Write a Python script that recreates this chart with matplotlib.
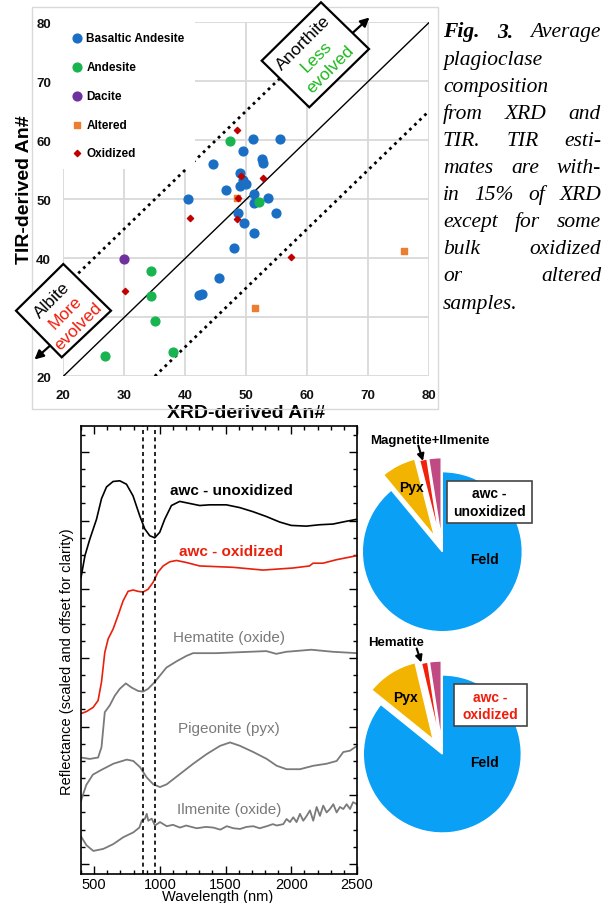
import numpy as np
import matplotlib
matplotlib.use('Agg')
import matplotlib.pyplot as plt
from matplotlib.patches import Polygon, Rectangle, FancyArrowPatch

plt.rcParams['font.family'] = ['Liberation Sans', 'DejaVu Sans']

W, H = 605, 904

# ---------------- scatter: XRD vs TIR An#
bas_x = [51.1, 55.5, 49.5, 52.5, 52.7, 44.6, 49.0, 49.5, 49.0, 49.9, 46.7, 51.3,
         40.5, 53.6, 51.3, 48.7, 54.8, 49.7, 51.3, 48.0, 45.5, 42.8, 42.2]
bas_y = [60.2, 60.2, 58.2, 56.9, 56.2, 55.9, 54.5, 53.2, 52.3, 52.6, 51.6, 50.9,
         50.0, 50.2, 49.4, 47.6, 47.6, 45.9, 44.3, 41.7, 36.7, 34.0, 33.8]
and_x = [47.3, 52.0, 34.4, 34.4, 35.1, 26.8, 38.0]
and_y = [59.9, 49.5, 37.9, 33.6, 29.3, 23.4, 24.1]
dac_x = [30.0]
dac_y = [39.8]
alt_x = [48.4, 51.4, 75.9]
alt_y = [50.3, 31.5, 41.3]
oxi_x = [48.4, 49.1, 52.8, 48.6, 40.8, 48.4, 57.4, 30.1]
oxi_y = [61.8, 54.0, 53.6, 50.2, 46.8, 46.6, 40.3, 34.4]
ticks_an = [20, 30, 40, 50, 60, 70, 80]

# ---------------- spectra (reflectance, scaled and offset)
unox_nm = [400, 430, 467, 518, 556, 594, 644, 695, 746, 796, 847, 885, 923, 961, 999, 1037,
           1088, 1151, 1227, 1303, 1379, 1506, 1607, 1709, 1810, 1911, 2000, 2114, 2216,
           2317, 2418, 2500]
unox_r = [4.17, 4.49, 4.73, 5.02, 5.32, 5.49, 5.57, 5.58, 5.53, 5.36, 5.07, 4.88, 4.78, 4.75,
          4.83, 5.02, 5.22, 5.28, 5.25, 5.22, 5.23, 5.23, 5.19, 5.13, 5.06, 4.98, 4.93, 4.92,
          4.94, 4.95, 4.99, 5.02]
ox_nm = [400, 442, 492, 530, 556, 581, 607, 644, 682, 720, 758, 796, 834, 872, 910, 948, 986,
         1025, 1075, 1126, 1202, 1303, 1557, 1785, 2013, 2139, 2165, 2241, 2342, 2500]
ox_r = [2.19, 2.22, 2.28, 2.38, 2.65, 3.08, 3.28, 3.42, 3.62, 3.83, 3.97, 3.99, 3.97, 3.96,
        4.00, 4.10, 4.25, 4.34, 4.40, 4.42, 4.39, 4.34, 4.32, 4.28, 4.31, 4.34, 4.38, 4.38,
        4.43, 4.49]
hem_nm = [400, 467, 530, 556, 581, 619, 657, 695, 741, 784, 834, 872, 910, 961, 999, 1050,
          1126, 1202, 1252, 1430, 1810, 1886, 1962, 2152, 2317, 2500]
hem_r = [1.55, 1.53, 1.55, 1.70, 2.21, 2.31, 2.45, 2.55, 2.63, 2.57, 2.52, 2.51, 2.55, 2.65,
         2.74, 2.86, 2.95, 3.03, 3.07, 3.07, 3.10, 3.06, 3.09, 3.12, 3.09, 3.07]
pig_nm = [400, 440, 490, 545, 646, 748, 798, 849, 900, 950, 1001, 1052, 1153, 1254, 1356,
          1458, 1534, 1610, 1711, 1813, 1889, 1965, 2066, 2167, 2269, 2345, 2396, 2447, 2500]
pig_r = [0.92, 1.15, 1.30, 1.36, 1.46, 1.52, 1.50, 1.41, 1.26, 1.16, 1.12, 1.16, 1.31, 1.46,
         1.60, 1.72, 1.77, 1.72, 1.63, 1.53, 1.43, 1.38, 1.38, 1.43, 1.46, 1.50, 1.63, 1.65,
         1.72]
ilm_nm = [400, 443, 494, 570, 646, 722, 798, 844, 862, 887, 900, 912, 938, 963, 1001, 1052,
          1100, 1153, 1200, 1280, 1350, 1407, 1460, 1509, 1560, 1610, 1660, 1711, 1760, 1813,
          1860, 1889, 1939, 1964, 1990, 2015, 2040, 2066, 2091, 2117, 2142, 2167, 2193, 2218,
          2243, 2269, 2294, 2320, 2345, 2370, 2396, 2421, 2447, 2470, 2500]
ilm_r = [0.40, 0.27, 0.19, 0.22, 0.29, 0.39, 0.46, 0.53, 0.63, 0.66, 0.73, 0.63, 0.66, 0.56,
         0.61, 0.55, 0.57, 0.53, 0.56, 0.52, 0.54, 0.53, 0.50, 0.55, 0.52, 0.51, 0.54, 0.55,
         0.52, 0.55, 0.58, 0.56, 0.58, 0.655, 0.61, 0.68, 0.61, 0.73, 0.63, 0.70, 0.78, 0.63,
         0.83, 0.70, 0.85, 0.75, 0.80, 0.87, 0.75, 0.83, 0.80, 0.87, 0.80, 0.90, 0.87]
band_nm = [870, 965]
wl_ticks = [500, 1000, 1500, 2000, 2500]

# ---------------- modal mineralogy pies
pie_names = ['Feld', 'Pyx', 'Fe-Ti oxide', 'Other']
pie_unox = [89.0, 7.0, 1.5, 2.5]
pie_ox = [85.8, 10.5, 1.3, 2.4]
pie_cols = ['#0aa0f6', '#f2b400', '#f2210c', '#c04a82']

fig = plt.figure(figsize=(6.05, 9.04), dpi=100)


def fx(x):
    return x / W


def fy(y):
    return 1 - y / H


def px_axes(x0, y0, x1, y1):
    return fig.add_axes([fx(x0), fy(y1), (x1 - x0) / W, (y1 - y0) / H])


# Excel chart frame
fig.add_artist(Rectangle((fx(32), fy(410)), (438 - 32) / W, (410 - 8) / H,
                         transform=fig.transFigure, fill=False, ec='#d9d9d9', lw=1))

ax1 = px_axes(63.3, 23.3, 429.3, 377.3)
ax1.set_xlim(20, 80)
ax1.set_ylim(20, 80)
ax1.set_xticks(ticks_an)
ax1.set_yticks(ticks_an)
for s in ax1.spines.values():
    s.set_visible(False)
ax1.grid(True, color='#d9d9d9', lw=1.3, zorder=0)
ax1.set_axisbelow(True)
ax1.tick_params(length=0, labelsize=9.5, colors='#111111')
ax1.tick_params(axis='x', pad=9.5)
ax1.tick_params(axis='y', pad=9)
for lab in ax1.get_xticklabels() + ax1.get_yticklabels():
    lab.set_fontweight('bold')

ax1.plot([20, 80], [20, 80], color='black', lw=1, zorder=2)
ax1.plot([20, 65], [35, 80], color='black', lw=2, ls=(0, (1, 1.5)), zorder=2)
ax1.plot([35, 80], [20, 65], color='black', lw=2, ls=(0, (1, 1.5)), zorder=2)

ax1.scatter(bas_x, bas_y, s=40, color='#1a6fc4', zorder=3, label='Basaltic Andesite')
ax1.scatter(and_x, and_y, s=40, color='#18b450', zorder=3, label='Andesite')
ax1.scatter(dac_x, dac_y, s=40, color='#7030a0', zorder=3, label='Dacite')
ax1.scatter(alt_x, alt_y, s=24, marker='s', color='#ed7d31', zorder=3, label='Altered')
ax1.scatter(oxi_x, oxi_y, s=10, marker='D', color='#c00000', zorder=4, label='Oxidized')

leg = ax1.legend(loc='upper left', bbox_to_anchor=(0, 1), borderaxespad=0, frameon=True,
                 facecolor='white', edgecolor='none', fancybox=False, framealpha=1,
                 prop={'weight': 'bold', 'size': 8.5}, labelspacing=1.42,
                 handlelength=0.6, handletextpad=0.5, borderpad=0.85)
leg.set_zorder(5)

ax1.set_xlabel('XRD-derived An#', fontsize=14, fontweight='bold')
ax1.xaxis.set_label_coords(0.5, -0.101)
ax1.xaxis.label.set_va('center')
ax1.set_ylabel('TIR-derived An#', fontsize=14, fontweight='bold')
ax1.yaxis.set_label_coords(-0.107, 0.529)
ax1.yaxis.label.set_va('center')


def diamond_box(corners, lines, centers):
    pts = [(fx(x), fy(y)) for x, y in corners]
    fig.add_artist(Polygon(pts, closed=True, transform=fig.transFigure, fc='white',
                           ec='black', lw=1.6, zorder=6))
    for (txt, col), (cx, cy) in zip(lines, centers):
        fig.text(fx(cx), fy(cy), txt, color=col, fontsize=12.5, rotation=45,
                 rotation_mode='anchor', ha='center', va='center', zorder=7)


def fig_arrow(p0, p1, scale=13):
    fig.add_artist(FancyArrowPatch((fx(p0[0]), fy(p0[1])), (fx(p1[0]), fy(p1[1])),
                                   transform=fig.transFigure, arrowstyle='-|>',
                                   mutation_scale=scale, color='black', lw=1.6,
                                   shrinkA=0, shrinkB=0, zorder=7))


diamond_box([(321, 3.3), (369, 50), (309.3, 108.3), (261.7, 61.7)],
            [('Anorthite', 'black'), ('Less', '#1cb81c'), ('evolved', '#1cb81c')],
            [(303.3, 43.3), (316.7, 56.5), (330, 70)])
fig_arrow((353.3, 33.3), (369.5, 18.5))
diamond_box([(63.3, 265), (111, 311.7), (61.7, 358.3), (16, 311.7)],
            [('Albite', 'black'), ('More', '#f01c0c'), ('evolved', '#f01c0c')],
            [(51.7, 300), (65, 312.5), (78.3, 326.5)])
fig_arrow((50, 346.7), (34.5, 360.5))

# ---------------- spectra panel
ax2 = px_axes(81, 427, 357, 875)
gray = '#7a7a7a'
ax2.plot(unox_nm, unox_r, color='black', lw=1.2)
ax2.plot(ox_nm, ox_r, color='#e8200c', lw=1.2)
ax2.plot(hem_nm, hem_r, color=gray, lw=1.3)
ax2.plot(pig_nm, pig_r, color=gray, lw=1.3)
ax2.plot(ilm_nm, ilm_r, color=gray, lw=1.3)
for b in band_nm:
    ax2.axvline(b, color='black', lw=1.2, ls=(0, (2.4, 2)))
ax2.set_xlim(400, 2500)
ax2.set_ylim(-0.146, 6.378)
ax2.set_xticks(wl_ticks)
ax2.set_xticks(np.arange(400, 2501, 100), minor=True)
ax2.set_yticks(np.arange(0, 7))
ax2.set_yticks(np.arange(0, 6.3, 0.25), minor=True)
ax2.set_yticklabels([])
ax2.tick_params(which='both', direction='in', top=True, right=True, width=1, colors='black')
ax2.tick_params(which='major', length=6)
ax2.tick_params(which='minor', length=3)
ax2.tick_params(axis='x', labelsize=10.5, pad=2)
for s in ax2.spines.values():
    s.set_linewidth(1.2)
ax2.set_xlabel('Wavelength (nm)', fontsize=10.5)
ax2.xaxis.set_label_coords(0.495, -0.049)
ax2.xaxis.label.set_va('center')
ax2.set_ylabel('Reflectance (scaled and offset for clarity)', fontsize=10.5)
ax2.yaxis.set_label_coords(-0.049, 0.476)
ax2.yaxis.label.set_va('center')

ax2.text(1544, 5.44, 'awc - unoxidized', fontsize=11, fontweight='bold', ha='center',
         va='center', color='black')
ax2.text(1544, 4.56, 'awc - oxidized', fontsize=11, fontweight='bold', ha='center',
         va='center', color='#e8200c')
ax2.text(1526, 3.30, 'Hematite (oxide)', fontsize=11, ha='center', va='center', color=gray)
ax2.text(1525, 1.98, 'Pigeonite (pyx)', fontsize=11, ha='center', va='center', color=gray)
ax2.text(1525, 0.80, 'Ilmenite (oxide)', fontsize=11, ha='center', va='center', color=gray)

# ---------------- pies
ax3 = px_axes(358, 425, 605, 880)
wp = dict(edgecolor='white', linewidth=1)
ax3.pie(pie_unox, colors=pie_cols, startangle=90, counterclock=False, radius=80,
        center=(442.3, -552.7), explode=[0, 17, 14, 14], wedgeprops=wp)
ax3.pie(pie_ox, colors=pie_cols, startangle=90, counterclock=False, radius=79,
        center=(442.3, -755), explode=[0, 17, 14, 14], wedgeprops=wp)
ax3.set_xlim(358, 605)
ax3.set_ylim(-880, -425)
ax3.set_aspect('auto')
ax3.axis('off')

ax3.text(411, -488.3, pie_names[1], fontsize=10, fontweight='bold', ha='center', va='center')
ax3.text(484.3, -560, pie_names[0], fontsize=10, fontweight='bold', ha='center', va='center')
ax3.text(405, -698.3, pie_names[1], fontsize=10, fontweight='bold', ha='center', va='center')
ax3.text(484.3, -763.3, pie_names[0], fontsize=10, fontweight='bold', ha='center', va='center')

ax3.text(430, -440.7, 'Magnetite+Ilmenite', fontsize=9.5, fontweight='bold', ha='center',
         va='center')
ax3.annotate('', xy=(423, -462), xytext=(418.3, -446.5),
             arrowprops=dict(arrowstyle='-|>', color='black', lw=1.5, mutation_scale=10,
                             shrinkA=0, shrinkB=0))
ax3.text(395.7, -642.7, 'Hematite', fontsize=9.5, fontweight='bold', ha='center', va='center')
ax3.annotate('', xy=(421.3, -663.5), xytext=(416.7, -649.5),
             arrowprops=dict(arrowstyle='-|>', color='black', lw=1.5, mutation_scale=10,
                             shrinkA=0, shrinkB=0))

ax3.add_patch(Rectangle((446.7, -524.3), 85.6, 42.6, fc='white', ec='#444444', lw=1.2,
                        zorder=5))
ax3.text(489.5, -494.5, 'awc -', fontsize=10, fontweight='bold', ha='center', va='center',
         zorder=6)
ax3.text(489.5, -512.3, 'unoxidized', fontsize=10, fontweight='bold', ha='center',
         va='center', zorder=6)
ax3.add_patch(Rectangle((454, -727.3), 72.7, 42.3, fc='white', ec='#444444', lw=1.2,
                        zorder=5))
ax3.text(490.3, -698.3, 'awc -', fontsize=10, fontweight='bold', ha='center', va='center',
         color='#f01c0c', zorder=6)
ax3.text(490.3, -715, 'oxidized', fontsize=10, fontweight='bold', ha='center', va='center',
         color='#f01c0c', zorder=6)

# ---------------- caption (justified)
cap_lines = [
    ['Fig.', '3.', 'Average'],
    ['plagioclase'],
    ['composition'],
    ['from', 'XRD', 'and'],
    ['TIR.', 'TIR', 'esti-'],
    ['mates', 'are', 'with-'],
    ['in', '15%', 'of', 'XRD'],
    ['except', 'for', 'some'],
    ['bulk', 'oxidized'],
    ['or', 'altered'],
    ['samples.'],
]
cap_x0, cap_x1 = 443, 601
cap_font = ['Liberation Serif', 'DejaVu Serif']
renderer = fig.canvas.get_renderer()
for i, words in enumerate(cap_lines):
    yb = 37.5 + 27.1 * i
    texts = []
    for w in words:
        bold = w in ('Fig.', '3.') and i == 0
        t = fig.text(fx(cap_x0), fy(yb), w, family=cap_font, style='italic',
                     fontweight='bold' if bold else 'normal', fontsize=15.5,
                     ha='left', va='baseline')
        texts.append(t)
    if len(texts) > 1 and i < len(cap_lines) - 1:
        widths = [t.get_window_extent(renderer).width for t in texts]
        gap = (cap_x1 - cap_x0 - sum(widths)) / (len(texts) - 1)
        x = cap_x0
        for t, wd in zip(texts, widths):
            t.set_x(fx(x))
            x += wd + gap

fig.savefig('out.png', dpi=100)
